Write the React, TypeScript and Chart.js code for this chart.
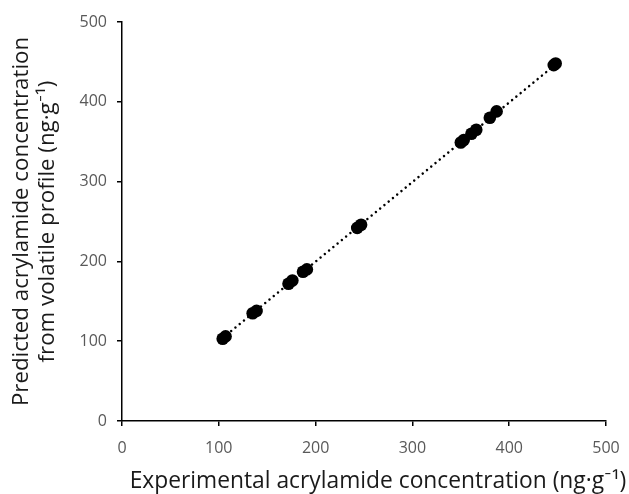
import React, { useEffect, useRef } from "react";
import { Chart, registerables } from "chart.js";

Chart.register(...registerables);

const experimental = [104, 107, 135, 139, 172, 176, 187, 191, 243, 247, 350, 353, 361, 366, 380, 387, 446, 448];
const predicted = [103, 106, 135, 138, 172, 176, 187, 190, 242, 246, 349, 352, 360, 365, 380, 388, 446, 448];
const trendX = [104, 448];
const trendY = [104, 447];
const xTitle = "Experimental acrylamide concentration (ng·g⁻¹)";
const yTitle = ["Predicted acrylamide concentration", "from volatile profile (ng·g⁻¹)"];

const FONT = "'Open Sans', Lato, sans-serif";

const xTitlePlugin = {
  id: "xTitlePlugin",
  afterDraw(chart: any) {
    const { ctx, chartArea } = chart;
    ctx.save();
    ctx.font = `22.8px ${FONT}`;
    ctx.fillStyle = "#1a1a1a";
    ctx.textAlign = "center";
    ctx.textBaseline = "alphabetic";
    const cx = (chartArea.left + chartArea.right) / 2 + 14;
    ctx.fillText(xTitle, cx, chartArea.bottom + 67);
    ctx.restore();
  },
};

export default function App() {
  const ref = useRef<HTMLCanvasElement | null>(null);
  useEffect(() => {
    if (!ref.current) return;
    const chart = new Chart(ref.current, {
      type: "scatter",
      data: {
        datasets: [
          {
            type: "line",
            data: trendX.map((x, i) => ({ x, y: trendY[i] })),
            borderColor: "#000",
            borderWidth: 2.5,
            borderDash: [0.01, 5.5],
            borderCapStyle: "round",
            pointRadius: 0,
            fill: false,
            order: 2,
          } as any,
          {
            data: experimental.map((x, i) => ({ x, y: predicted[i] })),
            backgroundColor: "#000",
            borderColor: "#000",
            borderWidth: 0,
            pointRadius: 6.3,
            order: 1,
          },
        ],
      },
      plugins: [xTitlePlugin],
      options: {
        animation: false,
        responsive: false,
        maintainAspectRatio: false,
        layout: { padding: { top: 22, right: 23, left: 0, bottom: 0 } },
        plugins: { legend: { display: false }, tooltip: { enabled: false } },
        scales: {
          x: {
            type: "linear",
            min: 0,
            max: 500,
            ticks: { stepSize: 100, color: "#595959", font: { family: FONT, size: 16 }, padding: 13, maxRotation: 0 },
            grid: { display: true, drawOnChartArea: false, drawTicks: true, tickLength: 5, color: "#000", lineWidth: 1.5 },
            border: { display: true, color: "#000", width: 1.5 },
            title: { display: false },
            afterFit: (s: any) => { s.height = 73; s.paddingLeft = 0; s.paddingRight = 0; },
          },
          y: {
            type: "linear",
            min: 0,
            max: 500,
            ticks: { stepSize: 100, color: "#595959", font: { family: FONT, size: 16 }, padding: 10 },
            grid: { display: true, drawOnChartArea: false, drawTicks: true, tickLength: 5, color: "#000", lineWidth: 1.5 },
            border: { display: true, color: "#000", width: 1.5 },
            title: { display: true, text: yTitle, color: "#1a1a1a", font: { family: FONT, size: 22.3, lineHeight: 1.18 }, padding: { top: 8, bottom: 0 } },
            afterFit: (s: any) => { s.width = 122; },
          },
        },
      },
    });
    return () => chart.destroy();
  }, []);
  return (
    <div style={{ position: "absolute", left: 0, top: 0, width: 629, height: 494, background: "#fff" }}>
      <canvas ref={ref} width={629} height={494} style={{ width: 629, height: 494 }} />
    </div>
  );
}
